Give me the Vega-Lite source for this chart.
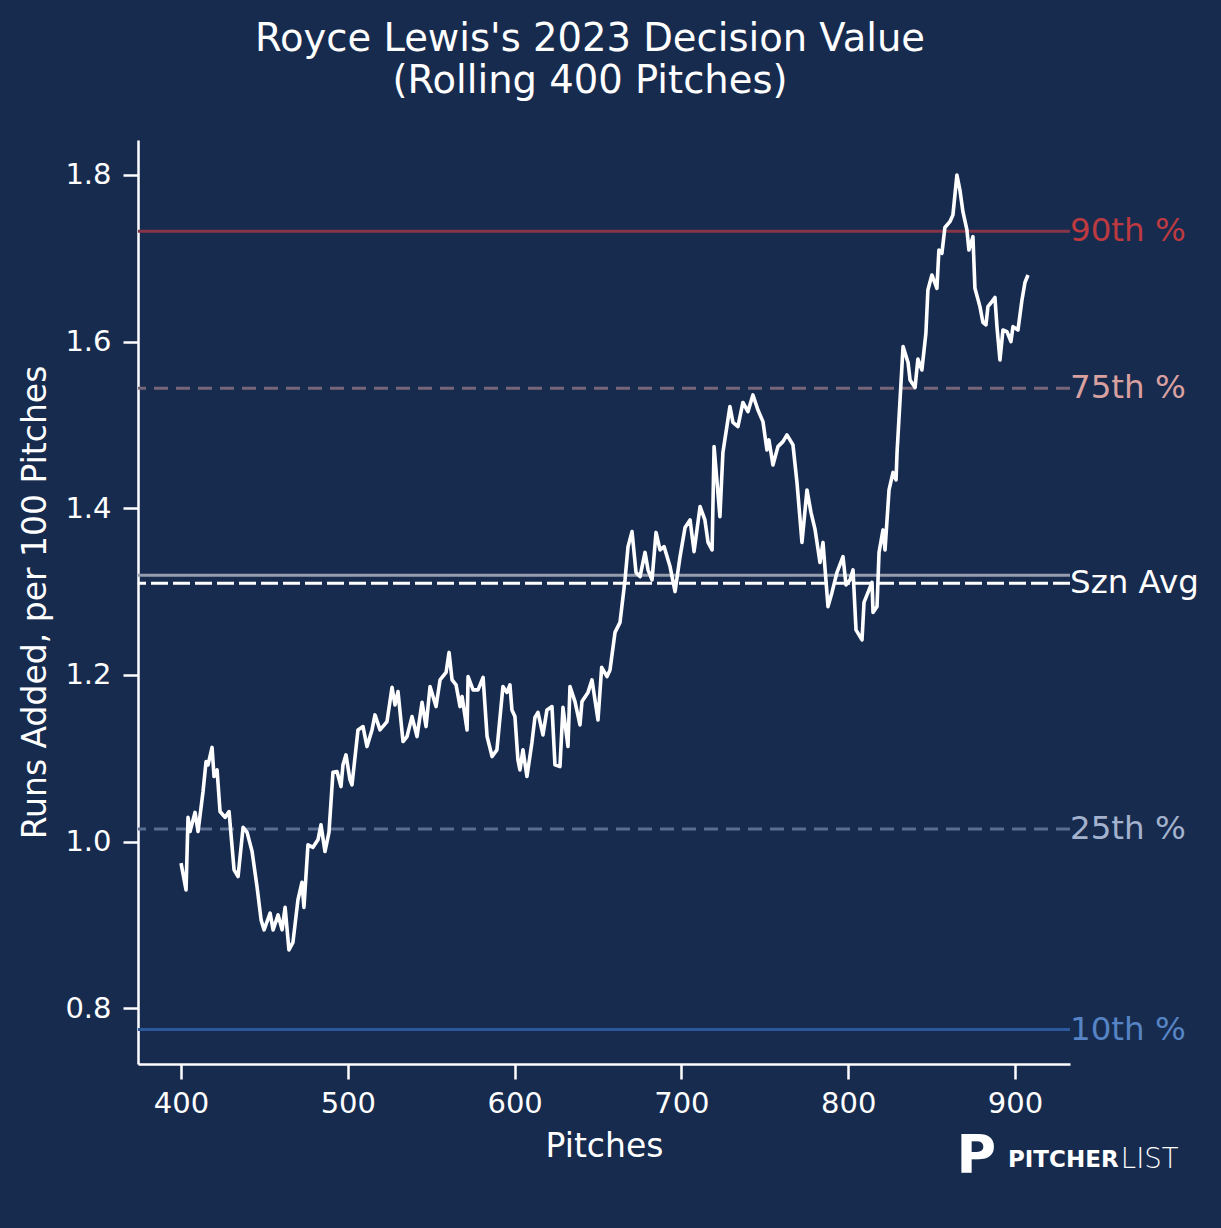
{
  "$schema": "https://vega.github.io/schema/vega-lite/v6.json",
  "width": 932,
  "height": 924,
  "autosize": "none",
  "padding": {"left": 138, "top": 140, "right": 151, "bottom": 164},
  "background": "#172b4f",
  "title": {
    "text": ["Royce Lewis's 2023 Decision Value", "(Rolling 400 Pitches)"],
    "font": "DejaVu Sans",
    "fontSize": 38.5,
    "fontWeight": "normal",
    "color": "white",
    "lineHeight": 42,
    "anchor": "middle",
    "dx": -14,
    "offset": 39
  },
  "datasets": {
    "series": [
      {"p": 400.0, "v": 0.974}, {"p": 403.0, "v": 0.942}, {"p": 404.2, "v": 1.029}, {"p": 405.4, "v": 1.012},
      {"p": 408.4, "v": 1.035}, {"p": 410.2, "v": 1.012}, {"p": 413.2, "v": 1.060}, {"p": 415.0, "v": 1.096},
      {"p": 416.2, "v": 1.092}, {"p": 418.6, "v": 1.113}, {"p": 419.8, "v": 1.078}, {"p": 421.6, "v": 1.086},
      {"p": 423.4, "v": 1.036}, {"p": 426.4, "v": 1.029}, {"p": 428.8, "v": 1.036}, {"p": 431.8, "v": 0.966},
      {"p": 434.2, "v": 0.958}, {"p": 437.2, "v": 1.017}, {"p": 439.6, "v": 1.011}, {"p": 442.6, "v": 0.988},
      {"p": 445.6, "v": 0.945}, {"p": 448.0, "v": 0.906}, {"p": 449.8, "v": 0.894}, {"p": 453.4, "v": 0.914},
      {"p": 455.2, "v": 0.894}, {"p": 458.2, "v": 0.912}, {"p": 460.6, "v": 0.894}, {"p": 462.4, "v": 0.921},
      {"p": 464.7, "v": 0.870}, {"p": 467.1, "v": 0.879}, {"p": 470.1, "v": 0.930}, {"p": 472.5, "v": 0.951},
      {"p": 473.7, "v": 0.921}, {"p": 476.1, "v": 0.996}, {"p": 479.1, "v": 0.993}, {"p": 482.1, "v": 1.002},
      {"p": 483.9, "v": 1.020}, {"p": 486.3, "v": 0.988}, {"p": 488.7, "v": 1.011}, {"p": 491.1, "v": 1.083},
      {"p": 493.5, "v": 1.084}, {"p": 495.9, "v": 1.066}, {"p": 497.1, "v": 1.092}, {"p": 498.9, "v": 1.104},
      {"p": 501.3, "v": 1.074}, {"p": 502.5, "v": 1.068}, {"p": 506.1, "v": 1.134}, {"p": 509.1, "v": 1.138},
      {"p": 511.5, "v": 1.114}, {"p": 514.5, "v": 1.134}, {"p": 516.3, "v": 1.152}, {"p": 519.3, "v": 1.134},
      {"p": 523.5, "v": 1.144}, {"p": 526.5, "v": 1.185}, {"p": 528.3, "v": 1.164}, {"p": 530.1, "v": 1.180},
      {"p": 533.1, "v": 1.120}, {"p": 535.5, "v": 1.126}, {"p": 538.5, "v": 1.150}, {"p": 541.5, "v": 1.126},
      {"p": 544.5, "v": 1.167}, {"p": 546.9, "v": 1.138}, {"p": 549.3, "v": 1.186}, {"p": 552.9, "v": 1.162},
      {"p": 555.3, "v": 1.194}, {"p": 558.9, "v": 1.203}, {"p": 560.7, "v": 1.227}, {"p": 562.5, "v": 1.194},
      {"p": 564.9, "v": 1.188}, {"p": 567.3, "v": 1.162}, {"p": 568.5, "v": 1.174}, {"p": 571.5, "v": 1.134},
      {"p": 572.1, "v": 1.198}, {"p": 575.1, "v": 1.182}, {"p": 578.1, "v": 1.182}, {"p": 581.1, "v": 1.197},
      {"p": 583.5, "v": 1.126}, {"p": 586.5, "v": 1.102}, {"p": 589.4, "v": 1.110}, {"p": 593.0, "v": 1.186},
      {"p": 595.4, "v": 1.179}, {"p": 597.2, "v": 1.188}, {"p": 598.4, "v": 1.158}, {"p": 600.2, "v": 1.150},
      {"p": 602.0, "v": 1.098}, {"p": 603.2, "v": 1.086}, {"p": 605.0, "v": 1.110}, {"p": 607.4, "v": 1.078},
      {"p": 610.4, "v": 1.119}, {"p": 612.2, "v": 1.149}, {"p": 614.0, "v": 1.155}, {"p": 617.0, "v": 1.128},
      {"p": 619.4, "v": 1.158}, {"p": 622.4, "v": 1.162}, {"p": 624.2, "v": 1.092}, {"p": 627.2, "v": 1.090},
      {"p": 629.0, "v": 1.161}, {"p": 632.0, "v": 1.114}, {"p": 633.2, "v": 1.186}, {"p": 636.2, "v": 1.168},
      {"p": 639.2, "v": 1.140}, {"p": 640.4, "v": 1.168}, {"p": 644.0, "v": 1.179}, {"p": 646.4, "v": 1.194},
      {"p": 650.0, "v": 1.146}, {"p": 652.2, "v": 1.209}, {"p": 655.4, "v": 1.198}, {"p": 657.2, "v": 1.206},
      {"p": 660.2, "v": 1.251}, {"p": 663.2, "v": 1.263}, {"p": 666.2, "v": 1.314}, {"p": 668.0, "v": 1.354},
      {"p": 670.4, "v": 1.372}, {"p": 672.8, "v": 1.323}, {"p": 675.2, "v": 1.318}, {"p": 678.2, "v": 1.347},
      {"p": 680.0, "v": 1.326}, {"p": 682.4, "v": 1.314}, {"p": 684.8, "v": 1.371}, {"p": 687.2, "v": 1.350},
      {"p": 689.6, "v": 1.354}, {"p": 693.2, "v": 1.330}, {"p": 696.2, "v": 1.300}, {"p": 699.2, "v": 1.342},
      {"p": 702.2, "v": 1.377}, {"p": 705.2, "v": 1.386}, {"p": 707.6, "v": 1.348}, {"p": 711.2, "v": 1.402},
      {"p": 714.1, "v": 1.386}, {"p": 716.0, "v": 1.359}, {"p": 718.4, "v": 1.350}, {"p": 719.6, "v": 1.474},
      {"p": 723.1, "v": 1.390}, {"p": 724.9, "v": 1.467}, {"p": 729.1, "v": 1.522}, {"p": 730.9, "v": 1.503},
      {"p": 733.9, "v": 1.498}, {"p": 736.9, "v": 1.527}, {"p": 739.9, "v": 1.516}, {"p": 742.9, "v": 1.536},
      {"p": 745.9, "v": 1.518}, {"p": 748.9, "v": 1.504}, {"p": 751.3, "v": 1.470}, {"p": 752.5, "v": 1.482},
      {"p": 754.9, "v": 1.452}, {"p": 757.9, "v": 1.474}, {"p": 760.9, "v": 1.480}, {"p": 763.3, "v": 1.488},
      {"p": 766.9, "v": 1.476}, {"p": 769.3, "v": 1.431}, {"p": 772.3, "v": 1.359}, {"p": 775.3, "v": 1.422},
      {"p": 777.7, "v": 1.395}, {"p": 780.1, "v": 1.375}, {"p": 783.1, "v": 1.335}, {"p": 784.9, "v": 1.359},
      {"p": 787.9, "v": 1.282}, {"p": 790.3, "v": 1.299}, {"p": 793.3, "v": 1.323}, {"p": 796.9, "v": 1.342},
      {"p": 798.7, "v": 1.308}, {"p": 801.1, "v": 1.314}, {"p": 802.9, "v": 1.326}, {"p": 804.7, "v": 1.254},
      {"p": 808.3, "v": 1.242}, {"p": 809.5, "v": 1.287}, {"p": 811.9, "v": 1.299}, {"p": 814.3, "v": 1.311},
      {"p": 814.9, "v": 1.275}, {"p": 817.3, "v": 1.282}, {"p": 818.5, "v": 1.347}, {"p": 820.9, "v": 1.374},
      {"p": 822.1, "v": 1.350}, {"p": 824.5, "v": 1.422}, {"p": 826.9, "v": 1.443}, {"p": 828.7, "v": 1.434},
      {"p": 829.3, "v": 1.467}, {"p": 831.1, "v": 1.530}, {"p": 832.9, "v": 1.594}, {"p": 835.9, "v": 1.575},
      {"p": 837.1, "v": 1.554}, {"p": 840.1, "v": 1.545}, {"p": 841.8, "v": 1.579}, {"p": 844.2, "v": 1.566},
      {"p": 846.6, "v": 1.610}, {"p": 847.8, "v": 1.662}, {"p": 850.2, "v": 1.680}, {"p": 853.2, "v": 1.664},
      {"p": 854.4, "v": 1.710}, {"p": 856.2, "v": 1.706}, {"p": 858.0, "v": 1.737}, {"p": 861.0, "v": 1.744},
      {"p": 862.8, "v": 1.752}, {"p": 865.2, "v": 1.800}, {"p": 867.0, "v": 1.782}, {"p": 868.8, "v": 1.756},
      {"p": 871.2, "v": 1.734}, {"p": 872.4, "v": 1.710}, {"p": 874.8, "v": 1.726}, {"p": 876.0, "v": 1.664},
      {"p": 879.0, "v": 1.642}, {"p": 880.8, "v": 1.623}, {"p": 882.6, "v": 1.620}, {"p": 883.8, "v": 1.642},
      {"p": 886.2, "v": 1.648}, {"p": 888.0, "v": 1.653}, {"p": 889.2, "v": 1.618}, {"p": 891.0, "v": 1.578},
      {"p": 892.8, "v": 1.614}, {"p": 895.2, "v": 1.612}, {"p": 897.6, "v": 1.600}, {"p": 898.8, "v": 1.618},
      {"p": 901.8, "v": 1.614}, {"p": 904.2, "v": 1.650}, {"p": 906.0, "v": 1.671}, {"p": 907.8, "v": 1.680}
    ],
    "refs": [
      {"name": "90th %", "y": 1.7325},
      {"name": "75th %", "y": 1.544},
      {"name": "League", "y": 1.3196},
      {"name": "Szn Avg", "y": 1.310},
      {"name": "25th %", "y": 1.0152},
      {"name": "10th %", "y": 0.7744}
    ],
    "logo": [
      {"part": "icon", "t": "P", "x": 865.0, "y": 0.621},
      {"part": "bold", "t": "PITCHER", "x": 895.8, "y": 0.618},
      {"part": "light", "t": "LIST", "x": 963.5, "y": 0.618}
    ]
  },
  "encoding": {
    "x": {
      "type": "quantitative",
      "scale": {"domain": [374.2, 933], "nice": false, "zero": false},
      "axis": {"values": [400, 500, 600, 700, 800, 900], "title": "Pitches", "labelPadding": 10, "titlePadding": 12}
    },
    "y": {
      "type": "quantitative",
      "scale": {"domain": [0.733, 1.842], "nice": false, "zero": false},
      "axis": {"values": [0.8, 1.0, 1.2, 1.4, 1.6, 1.8], "format": ".1f", "title": "Runs Added, per 100 Pitches", "labelPadding": 12, "titlePadding": 12}
    }
  },
  "layer": [
    {
      "data": {"name": "refs"},
      "mark": {"type": "rule", "strokeWidth": 3},
      "encoding": {
        "y": {"field": "y", "type": "quantitative"},
        "color": {
          "field": "name", "type": "nominal", "legend": null,
          "scale": {
            "domain": ["90th %", "75th %", "League", "Szn Avg", "25th %", "10th %"],
            "range": ["#87364a", "#776578", "#959daf", "#ffffff", "#586d90", "#2b579c"]
          }
        },
        "strokeDash": {
          "field": "name", "type": "nominal", "legend": null,
          "scale": {
            "domain": ["90th %", "75th %", "League", "Szn Avg", "25th %", "10th %"],
            "range": [[1, 0], [14, 8], [1, 0], [17, 5], [14, 8], [1, 0]]
          }
        }
      }
    },
    {
      "data": {"name": "series"},
      "mark": {"type": "line", "color": "white", "strokeWidth": 3.6, "strokeJoin": "round"},
      "encoding": {
        "x": {"field": "p", "type": "quantitative"},
        "y": {"field": "v", "type": "quantitative"}
      }
    },
    {
      "data": {"name": "refs"},
      "transform": [{"filter": "datum.name != 'League'"}],
      "mark": {"type": "text", "align": "left", "baseline": "middle", "dx": 0, "font": "DejaVu Sans", "fontSize": 32.5},
      "encoding": {
        "x": {"datum": 933},
        "y": {"field": "y", "type": "quantitative"},
        "text": {"field": "name"},
        "color": {
          "field": "name", "type": "nominal", "legend": null,
          "scale": {
            "domain": ["90th %", "75th %", "Szn Avg", "25th %", "10th %"],
            "range": ["#bc3a40", "#d9a0a0", "#ffffff", "#a3b2cd", "#5684c4"]
          }
        }
      }
    },
    {
      "data": {"name": "logo"},
      "transform": [{"filter": "datum.part == 'icon'"}],
      "mark": {"type": "text", "align": "left", "baseline": "middle", "font": "DejaVu Sans", "fontWeight": "bold", "fontSize": 54, "color": "white"},
      "encoding": {
        "x": {"field": "x", "type": "quantitative"},
        "y": {"field": "y", "type": "quantitative"},
        "text": {"field": "t"}
      }
    },
    {
      "data": {"name": "logo"},
      "transform": [{"filter": "datum.part == 'bold'"}],
      "mark": {"type": "text", "align": "left", "baseline": "middle", "font": "DejaVu Sans", "fontWeight": "bold", "fontSize": 23, "color": "white"},
      "encoding": {
        "x": {"field": "x", "type": "quantitative"},
        "y": {"field": "y", "type": "quantitative"},
        "text": {"field": "t"}
      }
    },
    {
      "data": {"name": "logo"},
      "transform": [{"filter": "datum.part == 'light'"}],
      "mark": {"type": "text", "align": "left", "baseline": "middle", "font": "DejaVu Sans", "fontWeight": 200, "fontSize": 27.5, "color": "white"},
      "encoding": {
        "x": {"field": "x", "type": "quantitative"},
        "y": {"field": "y", "type": "quantitative"},
        "text": {"field": "t"}
      }
    }
  ],
  "resolve": {"scale": {"color": "independent", "strokeDash": "independent"}},
  "config": {
    "view": {"stroke": null},
    "font": "DejaVu Sans",
    "axis": {
      "grid": false,
      "domainColor": "white",
      "domainWidth": 2.5,
      "tickColor": "white",
      "tickWidth": 2.5,
      "tickSize": 15,
      "labelColor": "white",
      "labelFont": "DejaVu Sans",
      "labelFontSize": 29,
      "titleColor": "white",
      "titleFont": "DejaVu Sans",
      "titleFontSize": 33,
      "titleFontWeight": "normal"
    }
  }
}
